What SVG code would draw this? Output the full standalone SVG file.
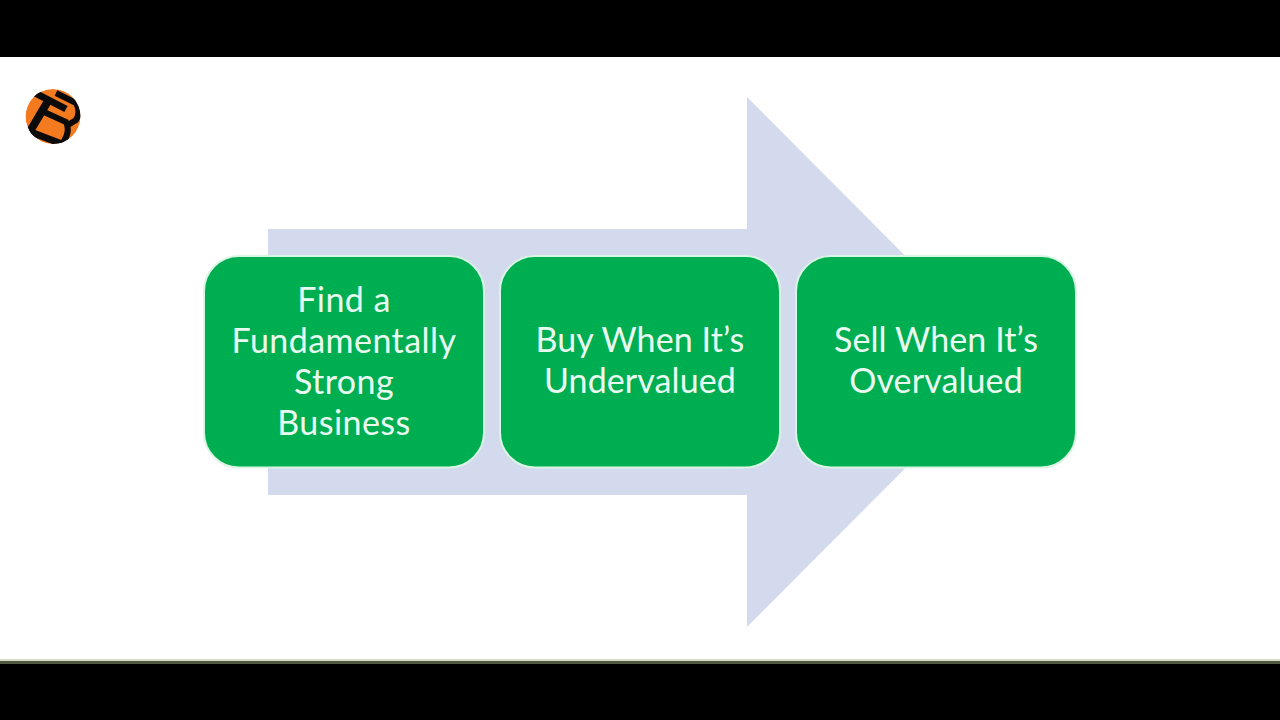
<svg xmlns="http://www.w3.org/2000/svg" width="1280" height="720" viewBox="0 0 1280 720">
<style>
.box{fill:#00ae52;stroke:#d9f5e4;stroke-width:2}
.t{font-family:"Lato","Open Sans",sans-serif;font-size:34px;letter-spacing:.45px;fill:#e9fbf1;text-anchor:middle}
.n{letter-spacing:.1px}
.bar{fill:#000}
.ink{stroke:#0b0b0b;fill:none;stroke-linecap:butt}
</style>
<defs><clipPath id="disc"><circle cx="53" cy="116.500" r="27.500"/></clipPath></defs>
<rect width="1280" height="720" fill="#fff"/>
<rect class="bar" width="1280" height="57"/>
<rect y="659" width="1280" height="2" fill="#d8dcc4"/>
<rect y="661" width="1280" height="3" fill="#4f5a40"/>
<rect class="bar" y="664" width="1280" height="56"/>
<g id="logo" clip-path="url(#disc)">
<circle cx="53" cy="116.500" r="27.500" fill="#f47a1f"/>
<path class="ink" stroke-width="7" d="M33 92 L66 109"/>
<path class="ink" stroke-width="8" d="M48 101 L29 133"/>
<path class="ink" stroke-width="6" d="M56 93 L76 103 Q81 112 76 120 L68 125"/>
<path class="ink" stroke-width="6" d="M44 112 L66 122 Q71 132 62 144"/>
<path class="ink" stroke-width="7" d="M28 131 L62 144"/>
</g>
<polygon id="arrow" points="268,229 747,229 747,97 1011,362 747,627 747,495 268,495" fill="#d3daee"/>
<g id="node-1">
<rect class="box" x="204" y="256" width="280" height="211.500" rx="35"/>
<text class="t" x="344" y="312">Find a</text>
<text class="t" x="344" y="353">Fundamentally</text>
<text class="t" x="344" y="394">Strong</text>
<text class="t" x="344" y="435">Business</text>
</g>
<g id="node-2">
<rect class="box" x="500" y="256" width="280" height="211.500" rx="35"/>
<text class="t n" x="640" y="352">Buy When It’s</text>
<text class="t n" x="640" y="393">Undervalued</text>
</g>
<g id="node-3">
<rect class="box" x="796" y="256" width="280" height="211.500" rx="35"/>
<text class="t n" x="936" y="352">Sell When It’s</text>
<text class="t n" x="936" y="393">Overvalued</text>
</g>
<g id="connectors"/>
</svg>
